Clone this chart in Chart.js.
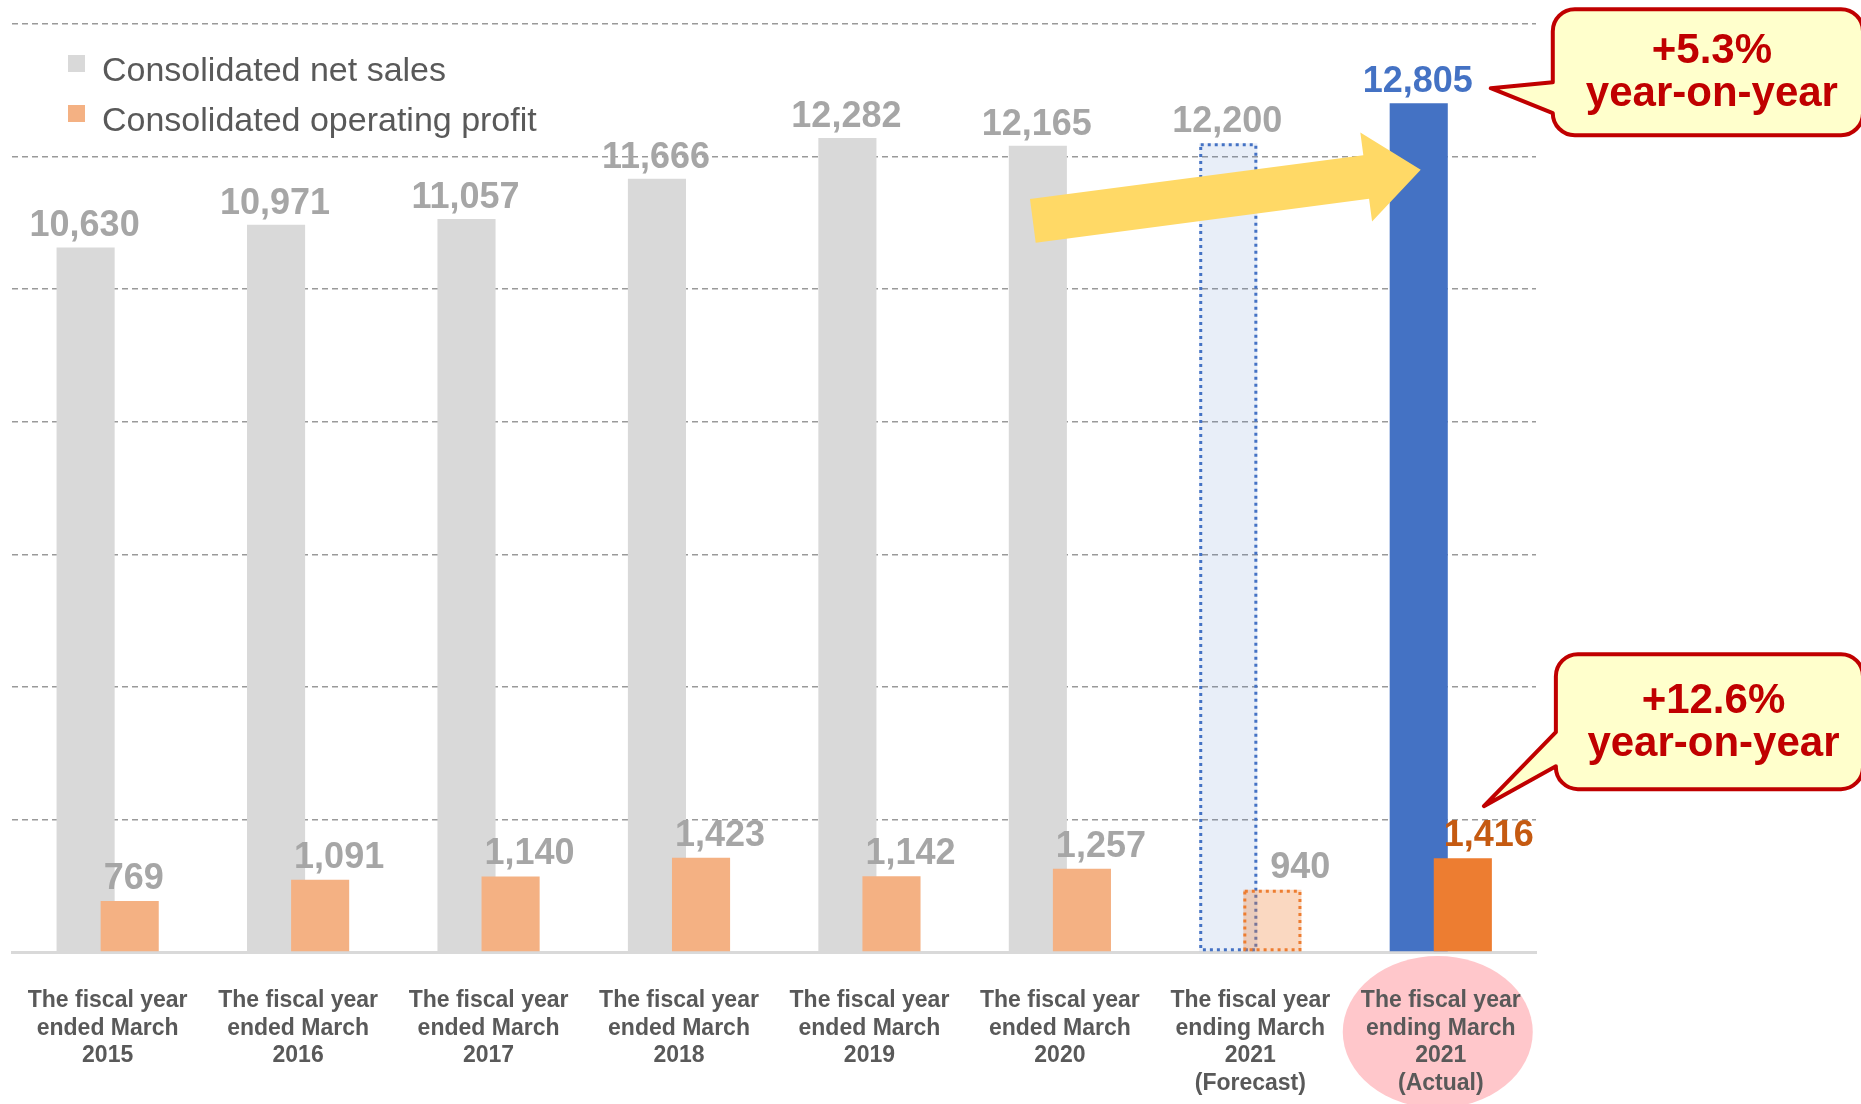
<!DOCTYPE html>
<html>
<head>
<meta charset="utf-8">
<script src="https://cdn.jsdelivr.net/npm/chart.js@4.4.1/dist/chart.umd.min.js"></script>
<style>
  html, body { margin: 0; padding: 0; background: #fff; overflow: hidden; }
  #wrap { width: 1861px; height: 1104px; }
</style>
</head>
<body>
<div id="wrap"><canvas id="chart"></canvas></div>
<script>
const CATEGORIES = [
  ["The fiscal year", "ended March", "2015"],
  ["The fiscal year", "ended March", "2016"],
  ["The fiscal year", "ended March", "2017"],
  ["The fiscal year", "ended March", "2018"],
  ["The fiscal year", "ended March", "2019"],
  ["The fiscal year", "ended March", "2020"],
  ["The fiscal year", "ending March", "2021", "(Forecast)"],
  ["The fiscal year", "ending March", "2021", "(Actual)"]
]
const NET_SALES = [10630, 10971, 11057, 11666, 12282, 12165, 12200, 12805]
const OPERATING_PROFIT = [769, 1091, 1140, 1423, 1142, 1257, 940, 1416]
const Y_TICKS = [0, 2000, 4000, 6000, 8000, 10000, 12000, 14000]
const SERIES_NAMES = ["Consolidated net sales", "Consolidated operating profit"]
const CALLOUT_SALES = ["+5.3%", "year-on-year"]
const CALLOUT_PROFIT = ["+12.6%", "year-on-year"]
const FORECAST = 6
const ACTUAL = 7
// arrow runs from the 2020 sales bar to the actual 2021 bar
const ARROW_FROM = [5, 11030]
const ARROW_TO = [7, 11800]

const FONT = "'Liberation Sans', Arial, sans-serif"
const GRAY = "#D9D9D9", LIGHT_ORANGE = "#F4B183", BLUE = "#4472C4", ORANGE = "#ED7D31"
const LABEL_GRAY = "#A6A6A6", TEXT = "#595959", RED = "#C00000"

const salesColors = NET_SALES.map((_, i) =>
  i === FORECAST ? "rgba(68,114,196,0.12)" : i === ACTUAL ? BLUE : GRAY)
const profitColors = OPERATING_PROFIT.map((_, i) =>
  i === FORECAST ? "rgba(237,125,49,0.3)" : i === ACTUAL ? ORANGE : LIGHT_ORANGE)

const fmt = v => v.toLocaleString("en-US")
const labelNudge = { 6: 24, 7: 7 }

function dottedBox(ctx, el, color) {
  const { x, y, base, width } = el.getProps(["x", "y", "base", "width"], true)
  ctx.save()
  ctx.strokeStyle = color
  ctx.lineWidth = 3
  ctx.setLineDash([3, 4])
  ctx.strokeRect(x - width / 2 + 1.5, y + 1.5, width - 3, base - y - 3)
  ctx.restore()
}

function callout(ctx, box, tip, baseTop, baseBottom, lines) {
  const r = 22
  const { left, top, right, bottom } = box
  ctx.save()
  ctx.beginPath()
  ctx.moveTo(left + r, top)
  ctx.lineTo(right - r, top)
  ctx.arcTo(right, top, right, top + r, r)
  ctx.lineTo(right, bottom - r)
  ctx.arcTo(right, bottom, right - r, bottom, r)
  ctx.lineTo(left + r, bottom)
  ctx.arcTo(left, bottom, left, bottom - r, r)
  ctx.lineTo(left, baseBottom)
  ctx.lineTo(tip.x, tip.y)
  ctx.lineTo(left, baseTop)
  ctx.lineTo(left, top + r)
  ctx.arcTo(left, top, left + r, top, r)
  ctx.closePath()
  ctx.fillStyle = "#FFFFCC"
  ctx.fill()
  ctx.lineWidth = 4
  ctx.lineJoin = "round"
  ctx.strokeStyle = RED
  ctx.stroke()
  ctx.fillStyle = RED
  ctx.font = "bold 42px " + FONT
  ctx.textAlign = "center"
  ctx.textBaseline = "alphabetic"
  const cx = (left + right) / 2 + 4
  const mid = (top + bottom) / 2
  ctx.fillText(lines[0], cx, mid - 9)
  ctx.fillText(lines[1], cx, mid + 34)
  ctx.restore()
}

const decorations = {
  id: "decorations",
  beforeDraw(chart) {
    const { ctx, width, height, scales: { x } } = chart
    ctx.save()
    ctx.fillStyle = "#FFFFFF"
    ctx.fillRect(0, 0, width, height)
    ctx.fillStyle = "#FFC7CB"
    ctx.beginPath()
    ctx.ellipse(x.getPixelForValue(ACTUAL) - 3, x.top + 80, 95, 76, 0, 0, Math.PI * 2)
    ctx.fill()
    ctx.restore()
  },
  beforeDatasetDraw(chart, args) {
    // profit bars are drawn later so they sit on top of the sales bars
    if (args.index === 1) return false
  },
  afterDatasetsDraw(chart) {
    const { ctx, scales: { y } } = chart
    const sales = chart.getDatasetMeta(0)
    const profit = chart.getDatasetMeta(1)

    dottedBox(ctx, sales.data[FORECAST], BLUE)
    ctx.save()
    profit.controller.draw()
    ctx.restore()
    dottedBox(ctx, profit.data[FORECAST], ORANGE)

    // yellow block arrow
    const a = { x: sales.data[ARROW_FROM[0]].x - 5, y: y.getPixelForValue(ARROW_FROM[1]) }
    const b = { x: sales.data[ARROW_TO[0]].x + 2, y: y.getPixelForValue(ARROW_TO[1]) }
    const len = Math.hypot(b.x - a.x, b.y - a.y)
    const ang = Math.atan2(b.y - a.y, b.x - a.x)
    const sw = 44, hw = 90, hl = 55
    ctx.save()
    ctx.translate(a.x, a.y)
    ctx.rotate(ang)
    ctx.beginPath()
    ctx.moveTo(0, -sw / 2)
    ctx.lineTo(len - hl, -sw / 2)
    ctx.lineTo(len - hl, -hw / 2)
    ctx.lineTo(len, 0)
    ctx.lineTo(len - hl, hw / 2)
    ctx.lineTo(len - hl, sw / 2)
    ctx.lineTo(0, sw / 2)
    ctx.closePath()
    ctx.fillStyle = "#FFD966"
    ctx.fill()
    ctx.restore()

    // value labels
    ctx.save()
    ctx.font = "bold 36px " + FONT
    ctx.textBaseline = "alphabetic"
    sales.data.forEach((el, i) => {
      ctx.fillStyle = i === ACTUAL ? BLUE : LABEL_GRAY
      ctx.textAlign = "center"
      ctx.fillText(fmt(NET_SALES[i]), el.x - 1, el.y - 11)
    })
    profit.data.forEach((el, i) => {
      ctx.fillStyle = i === ACTUAL ? "#C55A11" : LABEL_GRAY
      ctx.textAlign = "left"
      ctx.fillText(fmt(OPERATING_PROFIT[i]), el.x - el.width / 2 + 3 + (labelNudge[i] || 0), el.y - 12)
    })
    ctx.restore()
  },
  afterDraw(chart) {
    const { ctx } = chart
    const sales = chart.getDatasetMeta(0).data[ACTUAL]
    const profit = chart.getDatasetMeta(1).data[ACTUAL]

    // legend
    ctx.save()
    ctx.font = "34px " + FONT
    ctx.textBaseline = "middle"
    ctx.textAlign = "left"
    ;[GRAY, LIGHT_ORANGE].forEach((c, i) => {
      const yy = 72 + i * 50
      ctx.fillStyle = c
      ctx.fillRect(68, yy - 17, 17, 17)
      ctx.fillStyle = TEXT
      ctx.fillText(SERIES_NAMES[i], 102, yy)
    })
    ctx.restore()

    // callouts
    const t1 = { x: sales.x + sales.width / 2 + 43, y: sales.y - 15 }
    callout(ctx, { left: t1.x + 62, top: t1.y - 79, right: chart.width + 2, bottom: t1.y + 47 },
      t1, t1.y - 6, t1.y + 25, CALLOUT_SALES)
    const t2 = { x: profit.x + profit.width / 2 - 8, y: profit.y - 52 }
    callout(ctx, { left: t2.x + 72, top: t2.y - 152, right: chart.width + 2, bottom: t2.y - 17 },
      t2, t2.y - 74, t2.y - 40, CALLOUT_PROFIT)
  }
}

new Chart(document.getElementById("chart").getContext("2d"), {
  type: "bar",
  data: {
    labels: CATEGORIES,
    datasets: [
      { label: SERIES_NAMES[0], data: NET_SALES, backgroundColor: salesColors, borderWidth: 0 },
      { label: SERIES_NAMES[1], data: OPERATING_PROFIT, backgroundColor: profitColors, borderWidth: 0 }
    ]
  },
  options: {
    responsive: true,
    maintainAspectRatio: false,
    animation: false,
    events: [],
    categoryPercentage: 0.463,
    barPercentage: 1.318,
    layout: { padding: { left: 12, right: 325, top: 24, bottom: 0 } },
    plugins: { legend: { display: false }, tooltip: { enabled: false } },
    scales: {
      x: {
        grid: { display: false },
        border: { color: GRAY, width: 3 },
        ticks: {
          color: TEXT,
          font: { family: FONT, size: 23, weight: "bold", lineHeight: 1.2 },
          padding: 27,
          maxRotation: 0,
          autoSkip: false
        },
        afterFit(scale) { scale.height = 152 }
      },
      y: {
        min: Y_TICKS[0],
        max: Y_TICKS[Y_TICKS.length - 1],
        ticks: { display: false, stepSize: Y_TICKS[1] - Y_TICKS[0] },
        grid: {
          drawTicks: false,
          color: c => c.tick.value === 0 ? "rgba(0,0,0,0)" : "#9A9A9A",
          lineWidth: 1.5
        },
        border: { display: false, dash: [6, 4] }
      }
    }
  },
  plugins: [decorations]
})
</script>
</body>
</html>
